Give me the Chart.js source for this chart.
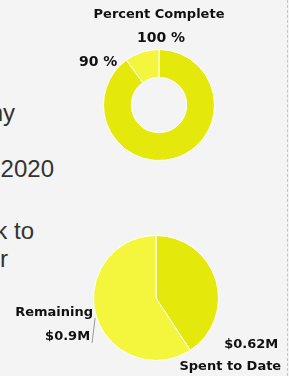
<!DOCTYPE html>
<html>
<head>
<meta charset="utf-8">
<script src="https://cdn.jsdelivr.net/npm/chart.js@4"></script>
<style>
  html, body { margin: 0; padding: 0; }
  body { width: 289px; height: 376px; background: #f4f4f4; position: relative; overflow: hidden;
         font-family: "Liberation Sans", Arial, sans-serif; color: #333; }
  .line { position: absolute; left: 0; text-align: right; white-space: nowrap; font-size: 24px; line-height: 28px; direction: rtl; }
  .line span { direction: ltr; unicode-bidi: embed; }
  .wrap { position: absolute; }
  .dash { position: absolute; left: 287px; top: 0; height: 376px; border-left: 1px dashed #c4c4c4; }
</style>
</head>
<body>
<div class="line" style="top:99px; width:15px;"><span>company</span></div>
<div class="line" style="top:155px; width:54px;"><span>by 2020</span></div>
<div class="line" style="top:217px; width:34px;"><span>back to</span></div>
<div class="line" style="top:245px; width:8px;"><span>our</span></div>

<div class="wrap" style="left:59px; top:0px; width:200px; height:175px;"><canvas id="progress"></canvas></div>
<div class="wrap" style="left:0px; top:200px; width:289px; height:176px;"><canvas id="budget"></canvas></div>
<div class="dash"></div>

<script>
// ─── data ─────────────────────────────────────────────
const progressLabels = ["Complete", "Left"];
const progressValues = [90, 10];

const budgetLabels = ["Spent to Date", "Remaining"];
const budgetValues = [0.62, 0.9];

const darkYellow  = "#e4e80b";
const lightYellow = "#f3f63c";
const fontFamily = '"DejaVu Sans", sans-serif';
const pctFont = "bold 14px " + fontFamily;
const moneyFont = "bold 13px " + fontFamily;

Chart.defaults.animation = false;

// ─── percent labels at segment ends (cumulative) ─────
const progressLabelPlugin = {
  id: "progressLabels",
  afterDraw(chart) {
    const ctx = chart.ctx;
    const arcs = chart.getDatasetMeta(0).data;
    let cum = 0;
    ctx.save();
    ctx.font = pctFont;
    ctx.fillStyle = "#111";
    ctx.textBaseline = "middle";
    arcs.forEach((arc, i) => {
      cum += progressValues[i];
      const a = arc.endAngle;
      const px = arc.x + arc.outerRadius * Math.cos(a);
      const py = arc.y + arc.outerRadius * Math.sin(a);
      const txt = cum + " %";
      if (Math.abs(Math.cos(a)) < 0.2) {
        ctx.textAlign = "center";
        ctx.fillText(txt, px + 2, py - 11.5);
      } else {
        ctx.textAlign = Math.cos(a) < 0 ? "right" : "left";
        ctx.fillText(txt, px + (Math.cos(a) < 0 ? -9 : 9), py + 2);
      }
    });
    ctx.restore();
  }
};

// ─── money labels ─────────────────────────────────────
const budgetLabelPlugin = {
  id: "budgetLabels",
  afterDraw(chart) {
    const ctx = chart.ctx;
    const arcs = chart.getDatasetMeta(0).data;
    ctx.save();
    ctx.font = moneyFont;
    ctx.fillStyle = "#111";
    ctx.textBaseline = "middle";
    ctx.textAlign = "right";

    // spent: at end of the slice
    const s = arcs[0];
    const sx = s.x + s.outerRadius * Math.cos(s.endAngle);
    const sy = s.y + s.outerRadius * Math.sin(s.endAngle);
    ctx.fillText("$" + budgetValues[0] + "M", sx + 88, sy - 6);
    ctx.fillText(budgetLabels[0], sx + 91, sy + 16);

    // remaining: at middle of the slice, with a leader line
    const r = arcs[1];
    const mid = (r.startAngle + r.endAngle) / 2;
    const rx = r.x + r.outerRadius * Math.cos(mid);
    const ry = r.y + r.outerRadius * Math.sin(mid);
    ctx.strokeStyle = "#999";
    ctx.lineWidth = 1;
    ctx.beginPath();
    ctx.moveTo(rx - 1, ry + 2);
    ctx.lineTo(rx - 4, ry + 27);
    ctx.stroke();
    ctx.fillText(budgetLabels[1], rx - 3, ry - 3);
    ctx.fillText("$" + budgetValues[1] + "M", rx - 6, ry + 21);
    ctx.restore();
  }
};

new Chart(document.getElementById("progress"), {
  type: "doughnut",
  data: {
    labels: progressLabels,
    datasets: [{
      data: progressValues,
      backgroundColor: [darkYellow, lightYellow],
      borderColor: "#ffffff",
      borderWidth: 1
    }]
  },
  options: {
    responsive: true,
    maintainAspectRatio: false,
    cutout: "50%",
    layout: { padding: { top: 0, left: 0, right: 0, bottom: 14 } },
    plugins: {
      legend: { display: false },
      tooltip: { enabled: false },
      title: {
        display: true,
        text: "Percent Complete",
        color: "#111",
        font: { family: fontFamily, size: 13, weight: "bold", lineHeight: 1.2 },
        padding: { top: 6.5, bottom: 26.9 }
      }
    }
  },
  plugins: [progressLabelPlugin]
});

new Chart(document.getElementById("budget"), {
  type: "pie",
  data: {
    labels: budgetLabels,
    datasets: [{
      data: budgetValues,
      backgroundColor: [darkYellow, lightYellow],
      borderColor: "#ffffff",
      borderWidth: 1
    }]
  },
  options: {
    responsive: true,
    maintainAspectRatio: false,
    layout: { padding: { top: 35, left: 93, right: 70, bottom: 15 } },
    plugins: {
      legend: { display: false },
      tooltip: { enabled: false }
    }
  },
  plugins: [budgetLabelPlugin]
});
</script>
</body>
</html>
